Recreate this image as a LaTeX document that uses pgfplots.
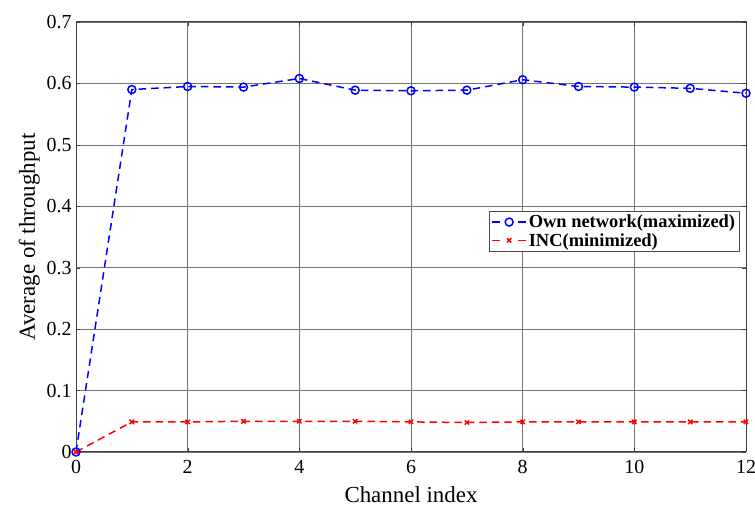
\documentclass[border=0pt]{standalone}
\usepackage{fontspec}
\setmainfont{Liberation Serif}
\usepackage{pgfplots}
\pgfplotsset{compat=1.18}
\begin{document}
\begin{tikzpicture}
\begin{axis}[
  name=ax,
  scale only axis,
  width=670bp, height=430bp,
  xmin=0, xmax=12, ymin=0, ymax=0.7,
  xtick={0,2,...,12},
  ytick={0,0.1,...,0.7},
  yticklabel style={/pgf/number format/fixed, /pgf/number format/precision=1, xshift=-1pt},
  xticklabel style={yshift=-5pt},
  /pgf/number format/assume math mode=true,
  grid=major,
  major grid style={black!55, line width=0.7pt},
  axis line style={black!75, line width=1pt},
  tick style={black!75},
  tick align=inside,
  font=\fontsize{20}{23}\selectfont,
  xlabel={Channel index},
  ylabel={Average of throughput},
  label style={font=\fontsize{23}{26}\selectfont},
  xlabel style={yshift=-6pt},
  ylabel style={yshift=0pt},
  legend style={at={(0.99,0.561)}, anchor=north east, draw=black!70, font=\fontsize{18.5}{21}\selectfont\bfseries, row sep=0pt, inner sep=2pt},
  legend cell align=left,
  legend image code/.code={
    \draw[#1, solid] (0pt,0pt) -- (8pt,0pt);
    \draw[#1, solid] (26pt,0pt) -- (34pt,0pt);
    \draw[#1, only marks] plot coordinates {(17pt,0pt)};},
  legend style={/tikz/every even column/.append style={column sep=0pt}},
]
\addplot[blue, dash pattern=on 7.5pt off 5pt, line width=1.5pt, mark=o, mark size=4pt, mark options={solid, line width=1.5pt}] coordinates {
(0,0) (1,0.590) (2,0.595) (3,0.594) (4,0.608) (5,0.589) (6,0.588) (7,0.589) (8,0.606) (9,0.595) (10,0.594) (11,0.592) (12,0.584)
};
\addlegendentry{Own network(maximized)}
\addplot[red, dash pattern=on 7.5pt off 5pt, line width=1.5pt, mark=x, mark size=3pt, mark options={solid, line width=1.5pt}] coordinates {
(0,0) (1,0.049) (2,0.049) (3,0.050) (4,0.050) (5,0.050) (6,0.049) (7,0.048) (8,0.049) (9,0.049) (10,0.049) (11,0.049) (12,0.049)
};
\addlegendentry{INC(minimized)}
\end{axis}
\pgfresetboundingbox
\path ([xshift=-76bp,yshift=-61bp]ax.south west) rectangle ([xshift=9bp,yshift=22bp]ax.north east);
\end{tikzpicture}
\end{document}
